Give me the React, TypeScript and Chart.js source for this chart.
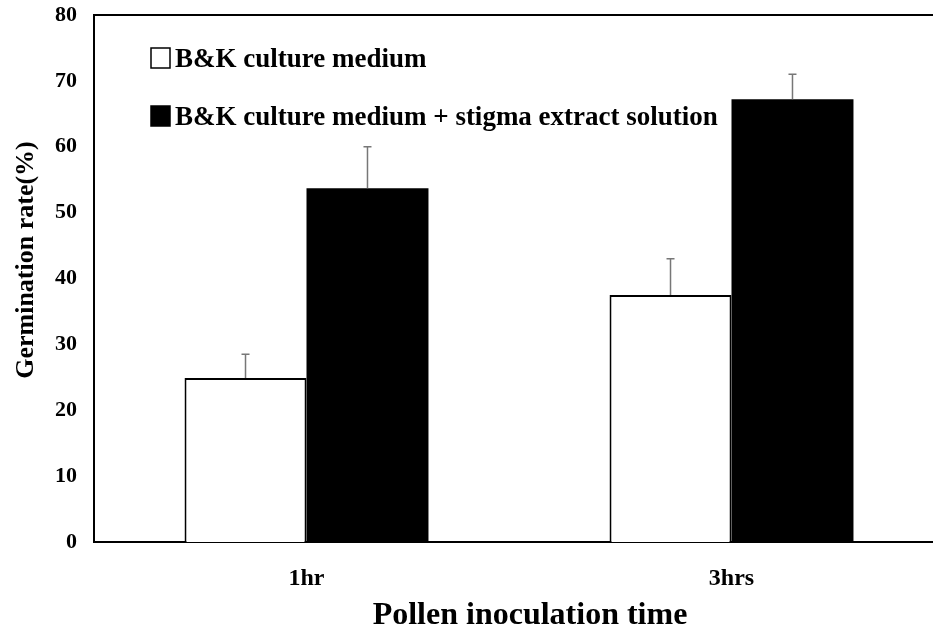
import React, { useEffect, useRef } from "react";
import { Chart, registerables } from "chart.js";

Chart.register(...registerables);

const categories = ["1hr", "3hrs"];
const seriesLabels = [
  "B&K culture medium",
  "B&K culture medium + stigma extract solution",
];
const bkMedium = [24.9, 37.5];
const bkMediumErr = [3.6, 5.5];
const bkStigma = [53.7, 67.2];
const bkStigmaErr = [6.3, 3.8];
const yTicks = [0, 10, 20, 30, 40, 50, 60, 70, 80];
const xTitle = "Pollen inoculation time";
const yTitle = "Germination rate(%)";

const FONT = "'Liberation Serif', 'Times New Roman', serif";

const errorsPlugin = {
  id: "errorBars",
  afterDatasetsDraw(chart: any) {
    const ctx = chart.ctx;
    const errs = [bkMediumErr, bkStigmaErr];
    const yScale = chart.scales.y;
    chart.data.datasets.forEach((ds: any, di: number) => {
      const meta = chart.getDatasetMeta(di);
      meta.data.forEach((bar: any, i: number) => {
        const top = yScale.getPixelForValue(ds.data[i] + errs[di][i]);
        const base = bar.y;
        ctx.save();
        ctx.strokeStyle = "#777";
        ctx.lineWidth = 1.5;
        ctx.beginPath();
        ctx.moveTo(bar.x, base);
        ctx.lineTo(bar.x, top);
        ctx.moveTo(bar.x - 4, top);
        ctx.lineTo(bar.x + 4, top);
        ctx.stroke();
        ctx.restore();
      });
    });
  },
};

const decorPlugin = {
  id: "decor",
  afterDraw(chart: any) {
    const ctx = chart.ctx;
    const area = chart.chartArea;
    ctx.save();
    // top frame line
    ctx.strokeStyle = "#000";
    ctx.lineWidth = 2;
    ctx.beginPath();
    ctx.moveTo(area.left, area.top);
    ctx.lineTo(area.right, area.top);
    ctx.stroke();

    // legend inside the plot
    const rows = [
      { y: 58, fill: "#fff" },
      { y: 116, fill: "#000" },
    ];
    ctx.font = `bold 27px ${FONT}`;
    ctx.textBaseline = "alphabetic";
    ctx.textAlign = "left";
    rows.forEach((r, i) => {
      ctx.fillStyle = r.fill;
      ctx.fillRect(151, r.y - 10, 19, 20);
      ctx.strokeStyle = "#000";
      ctx.lineWidth = 1.5;
      ctx.strokeRect(151, r.y - 10, 19, 20);
      ctx.fillStyle = "#000";
      ctx.fillText(seriesLabels[i], 175, r.y + 9);
    });

    // x title
    ctx.font = `bold 32px ${FONT}`;
    ctx.textAlign = "center";
    ctx.fillText(xTitle, 530, 624);

    // y title
    ctx.save();
    ctx.translate(33, 260);
    ctx.rotate(-Math.PI / 2);
    ctx.font = `bold 26px ${FONT}`;
    ctx.textAlign = "center";
    ctx.fillText(yTitle, 0, 0);
    ctx.restore();
    ctx.restore();
  },
};

export default function App() {
  const ref = useRef<HTMLCanvasElement>(null);
  useEffect(() => {
    if (!ref.current) return;
    const chart = new Chart(ref.current, {
      type: "bar",
      data: {
        labels: categories,
        datasets: [
          {
            label: seriesLabels[0],
            data: bkMedium,
            backgroundColor: "#fff",
            borderColor: "#000",
            borderWidth: 2,
            borderSkipped: "bottom",
            categoryPercentage: 0.574,
            barPercentage: 1.0,
          },
          {
            label: seriesLabels[1],
            data: bkStigma,
            backgroundColor: "#000",
            borderColor: "#000",
            borderWidth: 0,
            categoryPercentage: 0.574,
            barPercentage: 1.0,
          },
        ],
      },
      options: {
        animation: false,
        responsive: false,
        devicePixelRatio: 1,
        layout: { padding: { top: 15, right: 6, left: 0, bottom: 0 } },
        plugins: {
          legend: { display: false },
          tooltip: { enabled: false },
        },
        scales: {
          x: {
            grid: { display: false, drawTicks: false },
            border: { display: true, color: "#000", width: 2 },
            ticks: {
              color: "#000",
              padding: 22,
              font: { family: FONT, size: 24, weight: "bold" },
            },
            afterFit: (s: any) => {
              s.height = 92;
              s.paddingLeft = 0;
              s.paddingRight = 0;
            },
          },
          y: {
            min: 0,
            max: 80,
            grid: { display: false, drawTicks: false },
            border: { display: true, color: "#000", width: 2 },
            afterBuildTicks: (s: any) => {
              s.ticks = yTicks.map((v) => ({ value: v }));
            },
            ticks: {
              color: "#000",
              padding: 17,
              font: { family: FONT, size: 22, weight: "bold" },
            },
            afterFit: (s: any) => {
              s.width = 94;
              s.paddingTop = 0;
              s.paddingBottom = 0;
            },
          },
        },
      },
      plugins: [errorsPlugin, decorPlugin],
    });
    return () => chart.destroy();
  }, []);
  return (
    <div
      style={{
        position: "absolute",
        left: 0,
        top: 0,
        width: 933,
        height: 634,
        overflow: "hidden",
        background: "#fff",
      }}
    >
      <canvas ref={ref} width={950} height={634} style={{ display: "block" }} />
    </div>
  );
}
